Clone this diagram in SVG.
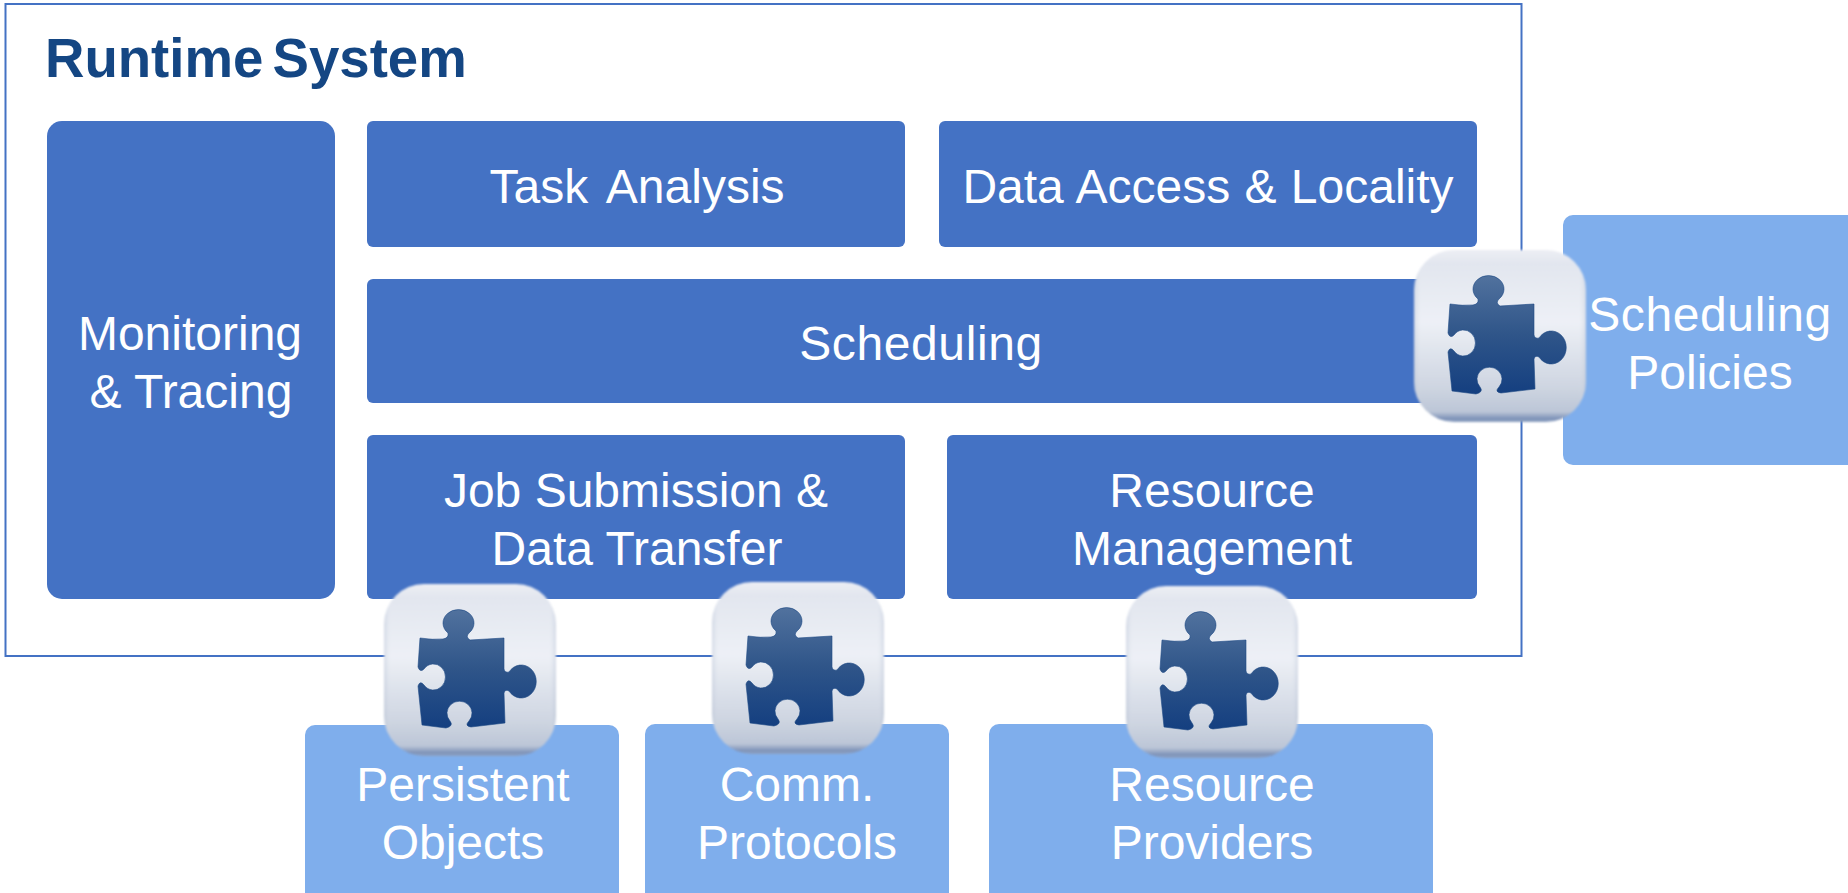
<svg xmlns="http://www.w3.org/2000/svg" width="1848" height="893" viewBox="0 0 1848 893">
<style>
text{font-family:"Liberation Sans",Arial,sans-serif;fill:#fff;font-size:48px;text-anchor:middle}
.title{fill:#144683;font-size:54.6px;font-weight:700;text-anchor:start}
.s{letter-spacing:.6px}
.d{fill:#4472c4}
.l{fill:#7faeec}
</style>
<defs>
<linearGradient id="tg" x1="0" y1="0" x2="0" y2="1">
<stop offset="0" stop-color="#eceef4"/><stop offset=".08" stop-color="#e2e6ef"/><stop offset=".42" stop-color="#edf0f6"/><stop offset=".8" stop-color="#ced5e1"/><stop offset=".94" stop-color="#bcc6d7"/><stop offset=".98" stop-color="#7f93b8"/><stop offset="1" stop-color="#8ea2c2"/>
</linearGradient>
<linearGradient id="sg" x1="0" y1="0" x2="1" y2="0">
<stop offset="0" stop-color="#aab6cc" stop-opacity=".35"/><stop offset=".04" stop-color="#dfe4ed" stop-opacity="0"/><stop offset=".96" stop-color="#dfe4ed" stop-opacity="0"/><stop offset="1" stop-color="#aab6cc" stop-opacity=".35"/>
</linearGradient>
<linearGradient id="pg" x1="0" y1="0" x2="0" y2="1">
<stop offset="0" stop-color="#51729e"/><stop offset=".5" stop-color="#2f5589"/><stop offset="1" stop-color="#143f80"/>
</linearGradient>
<filter id="soft" x="-5%" y="-5%" width="110%" height="110%"><feGaussianBlur stdDeviation="1"/></filter>
<g id="plug">
<g filter="url(#soft)">
<rect x="1" y="1" width="172" height="172" rx="40" fill="url(#tg)"/>
<rect x="1" y="1" width="172" height="172" rx="40" fill="url(#sg)"/>
</g>
<path fill="url(#pg)" stroke="#1f4a85" stroke-width=".6" stroke-linejoin="round" d="M37 55 Q50 57 60 56 Q66 55 65 50 A15.5 13.5 0 1 1 86 50 Q82 54 87 57 L121 55 L121 86 Q122 90 126 89 A15 16.5 0 1 1 126 108 Q122 106 121 110 L122 140 L88 144 Q81 143 86 138 A12.5 12 0 1 0 67 138 Q71 143 63 145 L39 142 L35 103 Q37 97 41 102 A12 13 0 1 0 41 86 Q37 90 35 84 Z"/>
</g>
</defs>
<g id="runtime-system">
<rect x="5.5" y="4" width="1516" height="652" fill="#fff" stroke="#4472c4" stroke-width="2"/>
<text class="title" x="45" y="77">Runtime<tspan dx="-6"> System</tspan></text>
</g>
<g id="monitoring"><rect class="d" x="47" y="121" width="288" height="478" rx="15"/><text x="190" y="350">Monitoring</text><text x="191" y="408">&amp; Tracing</text></g>
<g id="task-analysis"><rect class="d" x="367" y="121" width="538" height="126" rx="6"/><text x="637" y="203" word-spacing="7">Task Analysis</text></g>
<g id="data-access"><rect class="d" x="939" y="121" width="538" height="126" rx="6"/><text x="1208" y="203" word-spacing="1">Data Access &amp; Locality</text></g>
<g id="scheduling"><rect class="d" x="367" y="279" width="1110" height="124" rx="6"/><text class="s" x="921" y="360">Scheduling</text></g>
<g id="job-submission"><rect class="d" x="367" y="435" width="538" height="164" rx="6"/><text x="636" y="507">Job Submission &amp;</text><text x="637" y="565">Data Transfer</text></g>
<g id="resource-management"><rect class="d" x="947" y="435" width="530" height="164" rx="6"/><text x="1212" y="507">Resource</text><text x="1212" y="565">Management</text></g>
<g id="scheduling-policies"><rect class="l" x="1563" y="215" width="300" height="250" rx="10"/><text class="s" x="1710" y="331">Scheduling</text><text x="1710" y="389">Policies</text></g>
<g id="persistent-objects"><rect class="l" x="305" y="725" width="314" height="183" rx="10"/><text x="463" y="801">Persistent</text><text x="463" y="859">Objects</text></g>
<g id="comm-protocols"><rect class="l" x="645" y="724" width="304" height="184" rx="10"/><text x="797" y="801">Comm.</text><text x="797" y="859">Protocols</text></g>
<g id="resource-providers"><rect class="l" x="989" y="724" width="444" height="184" rx="10"/><text x="1212" y="801">Resource</text><text x="1212" y="859">Providers</text></g>
<g id="plugins">
<use href="#plug" x="1413" y="249"/>
<use href="#plug" x="383" y="583"/>
<use href="#plug" x="711" y="581"/>
<use href="#plug" x="1125" y="585"/>
</g>
</svg>
